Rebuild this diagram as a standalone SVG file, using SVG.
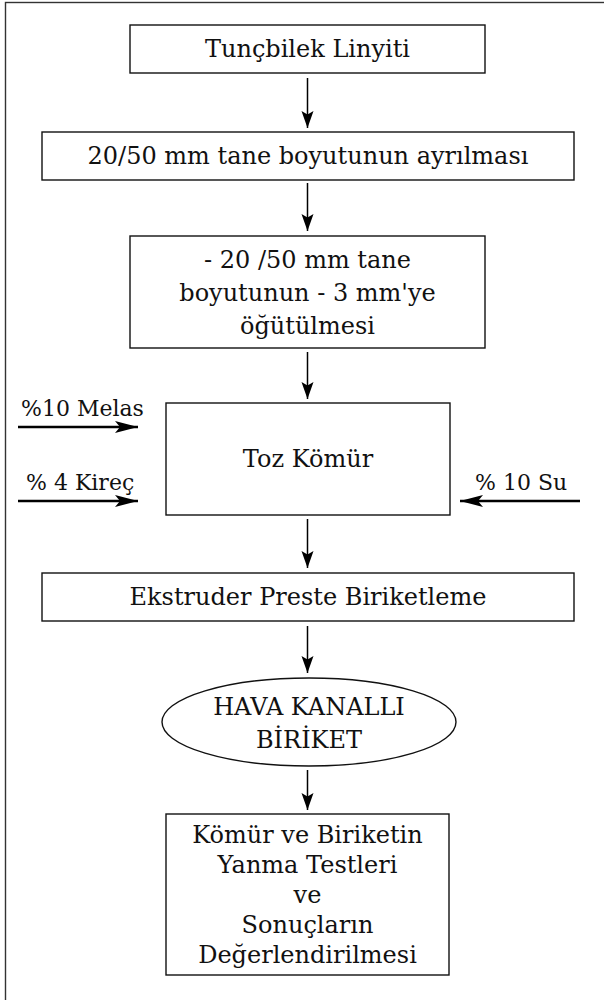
<svg xmlns="http://www.w3.org/2000/svg" width="604" height="1000" viewBox="0 0 604 1000">
<defs>
<style>
.box{fill:#fff;stroke:#111;stroke-width:1.4}
.t{font-family:"DejaVu Serif","Liberation Serif",serif;font-size:24px;fill:#111;text-anchor:middle}
.tl{font-family:"DejaVu Serif","Liberation Serif",serif;font-size:22px;fill:#111}
.c{stroke:#000;stroke-width:1.5;fill:none}
.h{stroke:#000;stroke-width:2.5;fill:none}
</style>
<marker id="av" markerUnits="userSpaceOnUse" markerWidth="18" markerHeight="13" refX="17" refY="6" orient="auto">
<path d="M0,0 L17,6 L0,12 L3.5,6 z" fill="#000"/>
</marker>
<marker id="ah" markerUnits="userSpaceOnUse" markerWidth="24" markerHeight="13" refX="23" refY="6" orient="auto">
<path d="M0,0 L23,6 L0,12 L5,6 z" fill="#000"/>
</marker>
</defs>
<rect x="0" y="0" width="604" height="1000" fill="#fff"/>
<rect x="5.5" y="2.5" width="700" height="1100" fill="none" stroke="#333" stroke-width="1.4"/>

<g id="n1"><rect class="box" x="130" y="25" width="355" height="48"/><text class="t" x="307.5" y="57">Tunçbilek Linyiti</text></g>
<g id="n2"><rect class="box" x="42" y="132" width="532" height="48"/><text class="t" x="308" y="164">20/50 mm tane boyutunun ayrılması</text></g>
<g id="n3"><rect class="box" x="130" y="236" width="355" height="112"/>
<text class="t" x="307.5" y="268">- 20 /50 mm tane</text>
<text class="t" x="307.5" y="301">boyutunun - 3 mm'ye</text>
<text class="t" x="307.5" y="334">öğütülmesi</text></g>
<g id="n4"><rect class="box" x="166" y="403" width="284" height="112"/><text class="t" x="308" y="467">Toz Kömür</text></g>
<g id="n5"><rect class="box" x="42" y="573" width="532" height="48"/><text class="t" x="308" y="605">Ekstruder Preste Biriketleme</text></g>
<g id="n6"><ellipse class="box" cx="309" cy="722" rx="147" ry="44"/>
<text class="t" x="309" y="715">HAVA KANALLI</text>
<text class="t" x="309" y="748">BİRİKET</text></g>
<g id="n7"><rect class="box" x="166" y="814" width="283" height="161"/>
<text class="t" x="307.5" y="843">Kömür ve Biriketin</text>
<text class="t" x="307.5" y="873">Yanma Testleri</text>
<text class="t" x="307.5" y="903">ve</text>
<text class="t" x="307.5" y="933">Sonuçların</text>
<text class="t" x="307.5" y="963">Değerlendirilmesi</text></g>

<g id="in-melas"><text class="tl" x="21" y="416">%10 Melas</text></g>
<g id="in-kirec"><text class="tl" x="26" y="490">% 4 Kireç</text></g>
<g id="in-su"><text class="tl" x="475" y="490">% 10 Su</text></g>

<g id="connectors">
<line class="c" x1="307.5" y1="78" x2="307.5" y2="128" marker-end="url(#av)"/>
<line class="c" x1="307.5" y1="183" x2="307.5" y2="231" marker-end="url(#av)"/>
<line class="c" x1="307.5" y1="352" x2="307.5" y2="399" marker-end="url(#av)"/>
<line class="c" x1="307.5" y1="519" x2="307.5" y2="568" marker-end="url(#av)"/>
<line class="c" x1="307.5" y1="626" x2="307.5" y2="673" marker-end="url(#av)"/>
<line class="c" x1="307.5" y1="770" x2="307.5" y2="810" marker-end="url(#av)"/>
<line class="h" x1="18" y1="427" x2="138" y2="427" marker-end="url(#ah)"/>
<line class="h" x1="18" y1="501" x2="138" y2="501" marker-end="url(#ah)"/>
<line class="h" x1="580" y1="501" x2="460" y2="501" marker-end="url(#ah)"/>
</g>
</svg>
